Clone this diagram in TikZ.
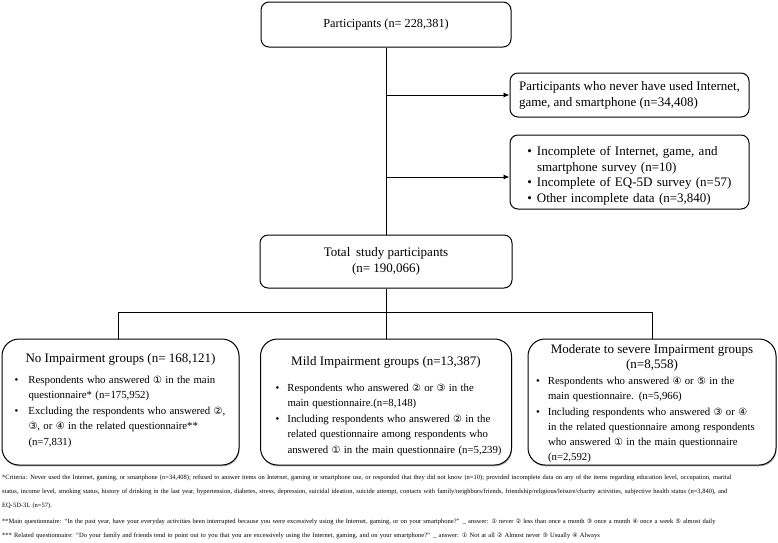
\documentclass[tikz,border=0pt]{standalone}
\usepackage{fontspec}
\setmainfont{Liberation Serif}
\newfontfamily\dvs[Scale=0.92]{DejaVu Sans}
\usetikzlibrary{arrows.meta,shadows}
\newcommand{\cone}{{\dvs ①}}
\newcommand{\ctwo}{{\dvs ②}}
\newcommand{\cthree}{{\dvs ③}}
\newcommand{\cfour}{{\dvs ④}}
\newcommand{\cfive}{{\dvs ⑤}}
\newcommand{\bitem}[3]{\par\leftskip=#1\relax\noindent\llap{•\hspace{#2}}#3\par}
\tikzset{
  box/.style={draw, line width=1pt, rounded corners=8pt, inner sep=0pt, fill=white},
  grp/.style={draw, line width=1pt, rounded corners=17pt, inner sep=0pt, fill=white,
    drop shadow={shadow xshift=0.6pt, shadow yshift=-1.4pt, fill=black!60}},
  gtext/.style={anchor=north, inner sep=0pt, text width=#1},
  link/.style={line width=0.9pt},
  arr/.style={link, -{Latex[length=6pt,width=5pt]}},
  foot/.style={anchor=north west, inner sep=0pt, text width=774, font=\fontsize{6.5}{14}\selectfont}
}
\begin{document}
\begin{tikzpicture}[x=1pt,y=-1pt]
\useasboundingbox (0,0) rectangle (778,542);
\node[box, minimum width=250, minimum height=45, font=\fontsize{12.3}{15}\selectfont] (top) at (386,24.5) {Participants (n= 228,381)};
\node[box, minimum width=239, minimum height=44, align=left, font=\fontsize{13}{16}\selectfont] (never) at (629.5,95) {Participants who never have used Internet,\\game, and smartphone (n=34,408)};
\node[box, minimum width=239, minimum height=74] (incomp) at (629.5,172) {};
\node[gtext=229, font=\fontsize{13}{15.7}\selectfont] (incompt) at ([yshift=-5pt]incomp.north) {\parindent=0pt
\bitem{22pt}{5pt}{Incomplete of Internet, game, and\\smartphone survey (n=10)}
\bitem{22pt}{5pt}{Incomplete of EQ-5D survey (n=57)}
\bitem{22pt}{5pt}{Other incomplete data (n=3,840)}};
\node[box, minimum width=252, minimum height=53, align=center, font=\fontsize{13}{16}\selectfont] (total) at (386,261.5) {Total\hspace{2.5pt} study participants\\(n= 190,066)};

\node[grp, minimum width=237, minimum height=126] (noimp) at (120.5,402) {};
\node[gtext=222] (noimpt) at ([yshift=-15pt]noimp.north) {\parindent=0pt
{\centering\fontsize{13}{15}\selectfont No Impairment groups (n= 168,121)\par}
\vspace{5pt}
\fontsize{10.8}{15.5}\selectfont
\bitem{19pt}{10pt}{Respondents who answered \cone\ in the main\\questionnaire* (n=175,952)}
\bitem{19pt}{10pt}{Excluding the respondents who answered \ctwo,\\\cthree, or \cfour\ in the related questionnaire**\\(n=7,831)}};

\node[grp, minimum width=251, minimum height=126] (mild) at (386,402) {};
\node[gtext=237] (mildt) at ([yshift=-18pt]mild.north) {\parindent=0pt
{\centering\fontsize{13}{15}\selectfont Mild Impairment groups (n=13,387)\par}
\vspace{10pt}
\fontsize{10.8}{15.5}\selectfont
\bitem{20pt}{8pt}{Respondents who answered \ctwo\ or \cthree\ in the\\main questionnaire.(n=8,148)}
\bitem{20pt}{8pt}{Including respondents who answered \ctwo\ in the\\related questionnaire among respondents who\\answered \cone\ in the main questionnaire (n=5,239)}};

\node[grp, minimum width=248, minimum height=126] (modsev) at (652,402) {};
\node[gtext=240] (modsevt) at ([yshift=-6pt]modsev.north) {\parindent=0pt
{\centering\fontsize{13}{15}\selectfont Moderate to severe Impairment groups\\(n=8,558)\par}
\vspace{1pt}
\fontsize{10.8}{15.1}\selectfont
\bitem{16pt}{8pt}{Respondents who answered \cfour\ or \cfive\ in the\\main questionnaire. (n=5,966)}
\bitem{16pt}{8pt}{Including respondents who answered \cthree\ or \cfour\\in the related questionnaire among respondents\\who answered \cone\ in the main questionnaire\\(n=2,592)}};

\draw[link] (top.south) -- (total.north);
\coordinate (j1) at (386,95);
\coordinate (j2) at (386,177);
\draw[arr] (j1) -- (never.west);
\draw[arr] (j2) -- (j2 -| incomp.west);
\coordinate (hbar) at (386,312);
\draw[link] (total.south) -- (mild.north);
\draw[link] (noimp.north -| 118,0) |- (hbar) -| (modsev.north);

\node[foot] (notes) at (2,475) {\parindent=0pt
*Criteria: Never used the Internet, gaming, or smartphone (n=34,408); refused to answer items on Internet, gaming or smartphone use, or responded that they did not know (n=10); provided incomplete data on any of the items regarding education level, occupation, marital\linebreak status, income level, smoking status, history of drinking in the last year, hypertension, diabetes, stress, depression, suicidal ideation, suicide attempt, contacts with family/neighbors/friends, friendship/religious/leisure/charity activities, subjective health status (n=3,840), and\linebreak EQ-5D-3L (n=57).\par
\vspace{2pt}
**Main questionnaire: “In the past year, have your everyday activities been interrupted because you were excessively using the Internet, gaming, or on your smartphone?” \_ answer: \cone\ never \ctwo\ less than once a month \cthree\ once a month \cfour\ once a week \cfive\ almost daily\par
*** Related questionnaire: “Do your family and friends tend to point out to you that you are excessively using the Internet, gaming, and on your smartphone?” \_ answer: \cone\ Not at all \ctwo\ Almost never \cthree\ Usually \cfour\ Always\par};
\end{tikzpicture}
\end{document}
